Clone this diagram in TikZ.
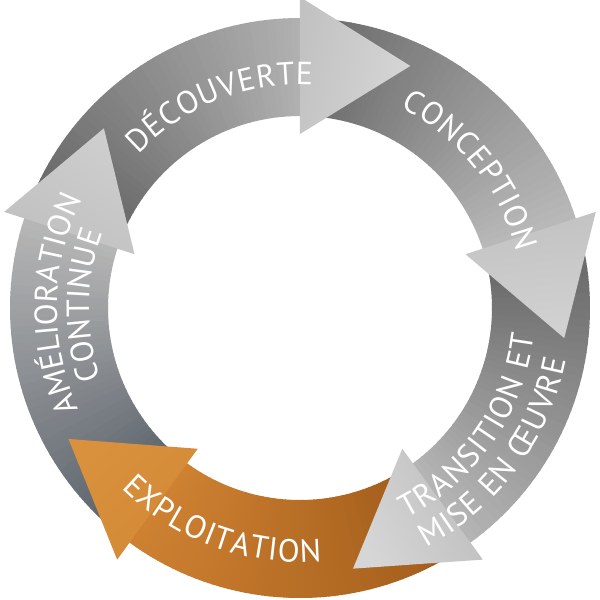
\documentclass[tikz,border=0pt]{standalone}
\usepackage{fontspec}
\newfontfamily\lblfont{PT Sans}
\usetikzlibrary{decorations.text}

\definecolor{dTail}{HTML}{686868}
\definecolor{dEnd}{HTML}{B0B0B0}
\definecolor{dHb}{HTML}{C2C2C2}
\definecolor{dHt}{HTML}{D6D6D6}
\definecolor{cTail}{HTML}{6E6E6E}
\definecolor{cEnd}{HTML}{B8B8B8}
\definecolor{cHb}{HTML}{C2C2C2}
\definecolor{cHt}{HTML}{D2D2D2}
\definecolor{tTail}{HTML}{686868}
\definecolor{tEnd}{HTML}{B4B4B4}
\definecolor{tHb}{HTML}{BEBEBE}
\definecolor{tHt}{HTML}{D6D6D6}
\definecolor{eTail}{HTML}{A45E1C}
\definecolor{eEnd}{HTML}{CE8131}
\definecolor{eHb}{HTML}{D38936}
\definecolor{eHt}{HTML}{D9913E}
\definecolor{aTail}{HTML}{5E656E}
\definecolor{aEnd}{HTML}{B6B6B6}
\definecolor{aHb}{HTML}{C0C0C0}
\definecolor{aHt}{HTML}{CECECE}

\newcommand{\ringband}[4]{%
  \foreach \i in {0,...,39}{%
    \pgfmathsetmacro{\aa}{#1+(#2-#1)*\i/40}%
    \pgfmathsetmacro{\ab}{#1+(#2-#1)*(\i+1.15)/40}%
    \pgfmathtruncatemacro{\pp}{100*\i/39}%
    \fill[#4!\pp!#3] (\aa:290pt) arc[start angle=\aa, end angle=\ab, radius=290pt]
      -- (\ab:192pt) arc[start angle=\ab, end angle=\aa, radius=192pt] -- cycle;
  }%
}
\newcommand{\ringhead}[3]{%
  \pgfmathsetmacro{\ta}{#1-24.5}%
  \pgfmathsetmacro{\sa}{#1-12}%
  \shade[top color=#2, bottom color=#3, shading angle=\sa]
    (#1:311pt) -- (\ta:266pt) -- (#1:174pt) -- cycle;
}

\tikzset{
  lbl/.style={decorate, decoration={text along path, text align=fit to path,
    text={|\lblfont\fontsize{32pt}{34pt}\selectfont\color{white}|#1}}}
}

\begin{document}
\begin{tikzpicture}[x=1pt,y=1pt]
\useasboundingbox (-300pt,-292pt) rectangle (300pt,308pt);
\fill[white] (-300pt,-292pt) rectangle (300pt,308pt);

% bands (tail hidden under the previous head)
\ringband{157}{90}{dTail}{dEnd}
\ringband{85}{18}{cTail}{cEnd}
\ringband{13}{-54}{tTail}{tEnd}
\ringband{-59}{-126}{eTail}{eEnd}
\ringband{-131}{-198}{aTail}{aEnd}

% arrow heads
\ringhead{90}{dHb}{dHt}
\ringhead{18}{cHb}{cHt}
\ringhead{-54}{tHb}{tHt}
\ringhead{-126}{eHb}{eHt}
\ringhead{-198}{aHb}{aHt}

% labels
\path[lbl={DÉCOUVERTE}] (136.5:223pt) arc[start angle=136.5, end angle=86.7, radius=223pt];
\path[lbl={CONCEPTION}] (63.3:224pt) arc[start angle=63.3, end angle=14.5, radius=224pt];
\path[lbl={TRANSITION ET}] (-63.3:236pt) arc[start angle=-63.3, end angle=-6.6, radius=236pt];
\path[lbl={MISE EN ŒUVRE}] (-62.2:271pt) arc[start angle=-62.2, end angle=-11.1, radius=271pt];
\path[lbl={EXPLOITATION}] (-134.7:254pt) arc[start angle=-134.7, end angle=-85.1, radius=254pt];
\path[lbl={AMÉLIORATION}] (204.6:243pt) arc[start angle=204.6, end angle=154.2, radius=243pt];
\path[lbl={CONTINUE}] (199.4:211pt) arc[start angle=199.4, end angle=160.1, radius=211pt];
\end{tikzpicture}
\end{document}
